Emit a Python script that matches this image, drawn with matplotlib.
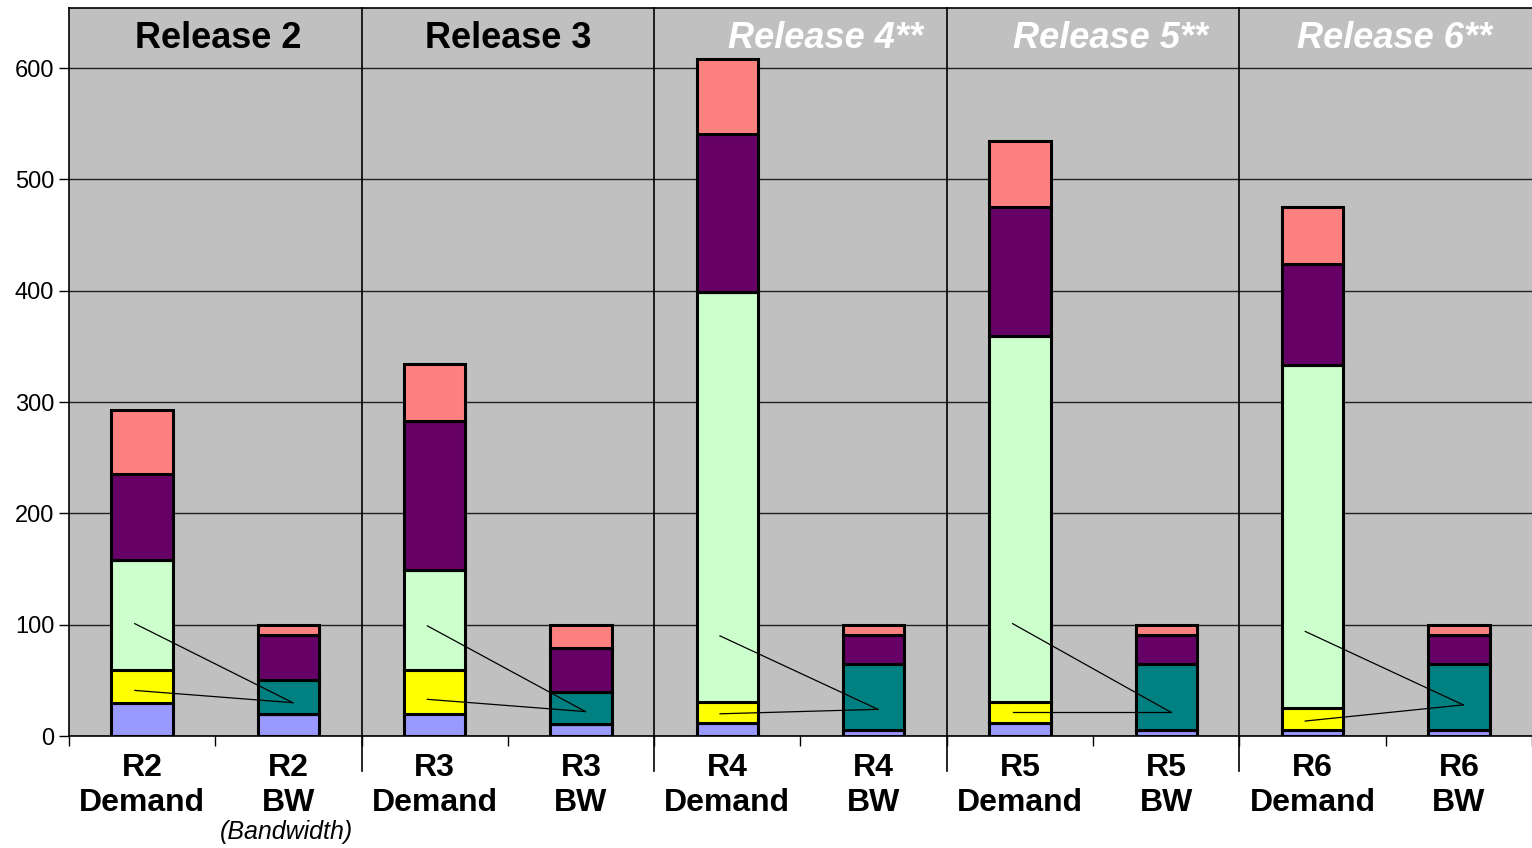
import numpy as np
import matplotlib
matplotlib.use("Agg")
import matplotlib.pyplot as plt

plt.rcParams["font.family"] = ["Liberation Sans", "DejaVu Sans"]

# Categories (demand / bandwidth pair per release)
releases = ["Release 2", "Release 3", "Release 4**", "Release 5**", "Release 6**"]
bar_labels = ["R2\nDemand", "R2\nBW", "R3\nDemand", "R3\nBW", "R4\nDemand",
              "R4\nBW", "R5\nDemand", "R5\nBW", "R6\nDemand", "R6\nBW"]

# Stacked segments, bottom to top
lavender = [30, 20, 20, 11, 12, 5, 12, 5, 5, 5]
yellow = [29, 0, 39, 0, 19, 0, 19, 0, 20, 0]
light_green = [99, 0, 90, 0, 368, 0, 328, 0, 308, 0]
teal = [0, 30, 0, 29, 0, 60, 0, 60, 0, 60]
purple = [77, 41, 134, 39, 142, 26, 116, 26, 91, 26]
salmon = [58, 9, 51, 21, 67, 9, 60, 9, 51, 9]

# Connector lines: demand (upper / lower point) -> bandwidth point
line_top_y = [101, 99, 90, 101, 94]
line_low_y = [41, 33, 20, 21.5, 13.5]
line_bw_y = [30, 22, 24, 21.5, 28]

segments = [lavender, yellow, light_green, teal, purple, salmon]
colors = ["#9999FF", "#FFFF00", "#CCFFCC", "#008080", "#660066", "#FF8080"]

fig = plt.figure(figsize=(15.32, 8.48), dpi=100)
ax = fig.add_axes([0.045, 0.132, 0.955, 0.8585])
ax.set_facecolor("#C0C0C0")

x = np.arange(len(bar_labels))
bottom = np.zeros(len(bar_labels))
for seg, col in zip(segments, colors):
    seg = np.array(seg, dtype=float)
    ax.bar(x, seg, bottom=bottom, width=0.42, color=col,
           edgecolor="black", linewidth=2.2, zorder=3)
    bottom += seg

# Connector lines
for i in range(len(releases)):
    d = 2 * i
    b = 2 * i + 1
    ax.plot([d - 0.05, b + 0.03], [line_top_y[i], line_bw_y[i]],
            color="black", lw=0.9, zorder=4)
    ax.plot([d - 0.05, b + 0.03], [line_low_y[i], line_bw_y[i]],
            color="black", lw=0.9, zorder=4)

ax.set_xlim(-0.5, 9.425)
ax.set_ylim(0, 654)

ax.set_yticks(range(0, 700, 100))
ax.yaxis.grid(True, color="#202020", lw=1.0, zorder=0)
ax.tick_params(axis="y", labelsize=17, length=7, width=1, direction="out")

ax.set_xticks(x)
ax.set_xticklabels(bar_labels, fontsize=23, fontweight="bold", linespacing=1.22)
ax.tick_params(axis="x", length=0, pad=12)
ax.set_xticks(np.arange(-0.5, 10, 1), minor=True)
ax.tick_params(axis="x", which="minor", length=7, width=1, direction="out")

for s in ["left", "top", "bottom"]:
    ax.spines[s].set_color("black")
    ax.spines[s].set_linewidth(1.2)
ax.spines["right"].set_visible(False)

# Release separators
for i in range(1, len(releases)):
    ax.axvline(2 * i - 0.5, ymin=-0.048, ymax=1, color="black", lw=1.2,
               clip_on=False, zorder=2)

# Release titles
title_shift = [0.02, 0.0, 0.17, 0.12, 0.06]
for i, name in enumerate(releases):
    starred = name.endswith("**")
    ax.text(2 * i + 0.5 + title_shift[i], 627, name, ha="center", va="center",
            fontsize=26, fontweight="bold",
            fontstyle="italic" if starred else "normal",
            color="white" if starred else "black", zorder=5)

fig.text(286 / 1532, 1 - 832 / 848, "(Bandwidth)", ha="center", va="center",
         fontsize=18, fontstyle="italic")

fig.savefig("out.png", dpi=100)
